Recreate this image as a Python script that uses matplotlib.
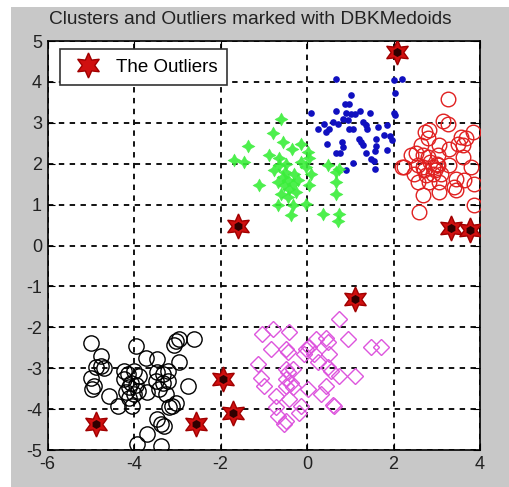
import matplotlib
matplotlib.use("Agg")
import matplotlib.pyplot as plt
from matplotlib.patches import Rectangle

# ---- data ----
blue_x = [0.66, 2.2, 1.02, 2.03, 0.89, 0.98, 0.09, 0.66, 0.9, 1.02, 1.11, 1.23, 0.83, 0.94, 1.46, 2.03,
          0.59, 0.4, 0.71, 1.29, 1.37, 0.25, 0.44, 0.52, 0.98, 1.06, 1.38, 1.64, 1.84, 1.21, 1.25, 1.6,
          1.79, 1.91, 1.97, 0.46, 0.81, 0.83, 1.29, 1.6, 0.67, 0.76, 1.37, 1.58, 1.84, 1.48, 1.56, 1.06,
          0.9, 1.57, 2.0, 2.0]
blue_y = [4.07, 4.07, 3.68, 3.72, 3.47, 3.47, 3.23, 3.29, 3.23, 3.21, 3.21, 3.29, 3.1, 3.06, 3.23, 3.19,
          3.02, 2.98, 2.96, 3.02, 2.94, 2.84, 2.78, 2.86, 2.86, 2.86, 2.84, 2.9, 2.94, 2.61, 2.53, 2.61,
          2.69, 2.67, 2.57, 2.49, 2.53, 2.41, 2.45, 2.43, 2.26, 2.25, 2.25, 2.31, 2.33, 2.12, 2.07, 2.02,
          1.84, 1.86, 3.24, 4.05]

red_x = [3.26, 3.14, 3.26, 2.83, 3.84, 2.79, 3.56, 3.68, 3.49, 3.6, 2.64, 3.06, 3.29, 2.41, 2.52, 2.68,
         2.79, 3.03, 3.6, 2.25, 2.56, 2.68, 2.91, 3.03, 3.29, 3.8, 2.48, 2.75, 2.91, 3.1, 3.45, 3.64,
         2.56, 2.83, 3.06, 3.41, 3.87, 2.68, 3.06, 3.45, 3.87, 2.6, 2.72, 2.2, 2.85, 2.95, 3.0, 2.7]
red_y = [3.58, 3.04, 2.98, 2.82, 2.78, 2.62, 2.66, 2.62, 2.49, 2.45, 2.45, 2.45, 2.37, 2.21, 2.25, 2.21,
         2.16, 2.21, 2.16, 1.92, 1.96, 1.92, 1.92, 1.96, 1.96, 1.92, 1.76, 1.72, 1.76, 1.76, 1.63, 1.59,
         1.55, 1.55, 1.55, 1.43, 1.51, 1.24, 1.32, 1.35, 1.0, 0.83, 2.78, 1.92, 2.05, 1.85, 2.0, 1.85]

green_x = [-0.59, -0.79, -1.37, -0.56, -0.35, -0.14, -1.68, -0.87, -0.64, -0.49, -0.64, -0.14, 0.05,
           -0.02, 0.02, 0.48, 0.67, 0.75, -0.76, -1.1, -0.56, -0.45, -0.33, -0.53, -0.41, -0.68, 0.05,
           0.67, -0.6, -0.45, 0.67, -0.68, -0.33, -0.02, 0.71, -0.37, 0.36, 0.75, -1.45, -0.3, -0.2,
           -0.5, -0.25, 0.1]
green_y = [3.09, 2.76, 2.43, 2.52, 2.37, 2.49, 2.08, 2.21, 2.13, 2.0, 1.96, 2.04, 2.13, 1.92, 2.29,
           1.96, 1.8, 1.88, 1.84, 1.49, 1.67, 1.59, 1.51, 1.47, 1.39, 1.55, 1.47, 1.55, 1.27, 1.18,
           1.27, 0.98, 1.0, 1.02, 0.61, 0.74, 0.78, 0.78, 2.05, 1.75, 1.6, 1.8, 1.3, 1.75]

black_x = [-5.0, -3.96, -3.03, -2.96, -3.07, -2.61, -4.77, -3.73, -3.46, -2.96, -4.88, -4.77, -4.69,
           -4.23, -4.15, -4.0, -3.88, -3.46, -3.34, -3.22, -5.0, -4.23, -4.07, -4.11, -3.5, -3.34,
           -3.22, -3.42, -4.92, -4.96, -2.76, -4.19, -4.0, -4.11, -3.69, -4.58, -3.26, -4.38, -4.04,
           -3.03, -3.11, -3.19, -3.38, -3.3, -3.46, -3.69, -3.92, -3.38, -3.95, -3.9]
black_y = [-2.39, -2.45, -2.33, -2.29, -2.43, -2.29, -2.7, -2.74, -2.78, -2.86, -2.98, -2.94, -3.0,
           -3.06, -3.14, -3.06, -3.19, -3.1, -3.14, -3.06, -3.23, -3.27, -3.35, -3.47, -3.31, -3.35,
           -3.31, -3.51, -3.43, -3.51, -3.43, -3.59, -3.64, -3.72, -3.59, -3.68, -3.64, -3.92, -3.92,
           -3.84, -3.92, -3.96, -4.37, -4.41, -4.25, -4.62, -4.86, -4.9, -3.4, -3.55]

mag_x = [0.75, -1.03, -0.79, -0.41, 0.21, 0.44, 0.48, 0.94, 1.48, 1.71, -0.83, -0.49, -0.45, -0.02,
         0.05, -0.06, 0.17, 0.52, -1.14, -0.49, -0.33, 0.48, 0.56, 0.75, 1.1, -1.06, -0.49, -0.37,
         -0.49, -0.33, -0.99, 0.02, 0.44, 0.32, -0.72, -0.41, 0.63, -0.72, -0.14, -0.18, -0.68,
         -0.49, -0.53, 0.59, -0.45, 0.25]
mag_y = [-1.8, -2.17, -2.04, -2.12, -2.29, -2.25, -2.37, -2.29, -2.49, -2.49, -2.53, -2.53, -2.61,
         -2.53, -2.49, -2.66, -2.66, -2.66, -2.9, -3.02, -3.02, -2.98, -3.06, -3.19, -3.19, -3.23,
         -3.27, -3.35, -3.43, -3.47, -3.43, -3.51, -3.43, -3.64, -3.68, -3.76, -3.92, -3.96, -3.92,
         -4.09, -4.17, -4.29, -4.36, -3.9, -3.1, -2.85]

out_x = [2.07, -1.6, 3.33, 3.76, 1.1, -1.95, -1.72, -2.57, -4.88]
out_y = [4.72, 0.47, 0.42, 0.38, -1.3, -3.27, -4.09, -4.37, -4.37]

x_ticks = [-6, -4, -2, 0, 2, 4]
y_ticks = [-5, -4, -3, -2, -1, 0, 1, 2, 3, 4, 5]
title_text = "Clusters and Outliers marked with DBKMedoids"
legend_label = "The Outliers"

# ---- figure ----
plt.rcParams['font.family'] = ['Liberation Sans', 'DejaVu Sans']
fig = plt.figure(figsize=(5.09, 4.87), dpi=100)
fig.patch.set_facecolor('white')
fig.patches.append(Rectangle((11 / 509, 0), 1 - 11 / 509, 1 - 7 / 487,
                             transform=fig.transFigure, facecolor='#c8c8c8',
                             edgecolor='none', zorder=-10))

ax = fig.add_axes([47.5 / 509, 1 - 450 / 487, (480 - 47.5) / 509, (450 - 41) / 487])
ax.set_facecolor('white')

ax.plot(blue_x, blue_y, 'o', color='#1010c0', markersize=4.8, markeredgewidth=0, zorder=3)
ax.plot(red_x, red_y, 'o', markerfacecolor='none', markeredgecolor='#e02020',
        markersize=10.5, markeredgewidth=1.0, zorder=3)
ax.plot(green_x, green_y, marker=(4, 1, 0), linestyle='none', color='#3aee3a',
        markersize=9.5, markeredgewidth=0.3, alpha=0.9, zorder=3)
ax.plot(black_x, black_y, 'o', markerfacecolor='none', markeredgecolor='black',
        markersize=11, markeredgewidth=1.0, zorder=3)
ax.plot(mag_x, mag_y, 'D', markerfacecolor='none', markeredgecolor='#dd55dd',
        markersize=8, markeredgewidth=1.0, zorder=3)

ax.plot(out_x, out_y, marker=(6, 1, 0), linestyle='none', markerfacecolor='#d01010',
        markeredgecolor='#a00000', markersize=18, markeredgewidth=1.0, zorder=4,
        label=legend_label)
ax.plot(out_x, out_y, marker='h', linestyle='none', color='#300000',
        markersize=6.5, markeredgewidth=0, zorder=5)

ax.set_xlim(x_ticks[0], x_ticks[-1])
ax.set_ylim(y_ticks[0], y_ticks[-1])
ax.set_xticks(x_ticks)
ax.set_yticks(y_ticks)
ax.set_xticklabels([str(v) for v in x_ticks])
ax.set_yticklabels([str(v) for v in y_ticks])
ax.grid(True, color='black', linestyle=(0, (3, 3)), linewidth=1.3)
ax.set_axisbelow(True)
ax.tick_params(direction='in', length=5, labelsize=13, pad=4, top=True, right=True,
               colors='black', labelcolor='#222222')
for s in ax.spines.values():
    s.set_linewidth(1.2)
    s.set_color('black')

fig.text(250 / 509, 1 - 20 / 487, title_text, fontsize=13.8, color='#222222',
         ha='center', va='center')

leg = ax.legend(loc='upper left', bbox_to_anchor=(0.029, 0.980), frameon=True,
                fancybox=False, fontsize=13.5, handlelength=2.0, borderpad=0.5,
                handletextpad=0.5, borderaxespad=0.0, markerscale=1.0)
leg.get_frame().set_edgecolor('#333333')
leg.get_frame().set_linewidth(1.2)
leg.get_frame().set_alpha(1)

fig.savefig('out.png', dpi=100, facecolor=fig.get_facecolor())
